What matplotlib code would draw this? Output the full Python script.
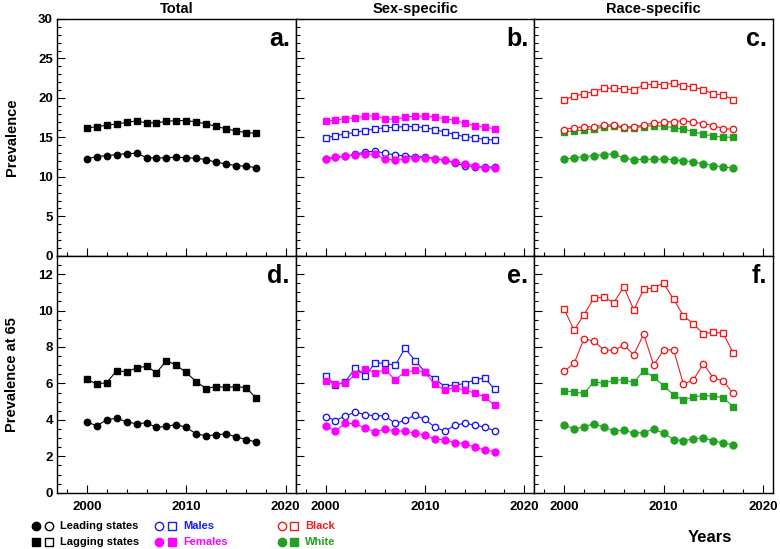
import matplotlib
matplotlib.use('Agg')
import matplotlib.pyplot as plt
from matplotlib.ticker import MultipleLocator

plt.rcParams['font.family'] = ['Liberation Sans', 'DejaVu Sans']
plt.rcParams['font.weight'] = 'bold'

years = list(range(2000, 2018))

# top row: prevalence (%)
total_lead = [12.28, 12.57, 12.70, 12.82, 12.95, 13.00, 12.44, 12.41, 12.44, 12.49, 12.44, 12.36, 12.19, 11.86, 11.65, 11.43, 11.35, 11.18]
total_lag = [16.20, 16.37, 16.54, 16.71, 16.92, 17.09, 16.84, 16.84, 17.05, 17.13, 17.13, 16.96, 16.71, 16.42, 16.08, 15.82, 15.61, 15.53]
male_lead = [12.32, 12.49, 12.62, 12.87, 13.16, 13.25, 13.00, 12.78, 12.66, 12.57, 12.53, 12.32, 12.11, 11.73, 11.43, 11.31, 11.22, 11.27]
male_lag = [14.94, 15.23, 15.44, 15.65, 15.86, 16.08, 16.24, 16.29, 16.37, 16.37, 16.24, 15.99, 15.70, 15.36, 15.10, 14.98, 14.72, 14.68]
female_lead = [12.32, 12.49, 12.62, 12.78, 12.87, 12.87, 12.24, 12.15, 12.32, 12.45, 12.41, 12.32, 12.11, 11.90, 11.69, 11.43, 11.18, 11.10]
female_lag = [17.05, 17.22, 17.38, 17.51, 17.68, 17.76, 17.34, 17.30, 17.55, 17.72, 17.68, 17.59, 17.38, 17.17, 16.80, 16.46, 16.29, 16.11]
black_lead = [15.99, 16.24, 16.33, 16.37, 16.54, 16.62, 16.29, 16.37, 16.54, 16.84, 16.96, 17.00, 17.13, 16.92, 16.75, 16.49, 16.11, 16.04]
black_lag = [19.78, 20.21, 20.54, 20.80, 21.23, 21.23, 21.14, 21.05, 21.65, 21.73, 21.69, 21.86, 21.56, 21.39, 21.01, 20.51, 20.38, 19.78]
white_lead = [12.24, 12.41, 12.57, 12.70, 12.82, 12.91, 12.36, 12.19, 12.24, 12.24, 12.24, 12.19, 12.06, 11.90, 11.65, 11.43, 11.27, 11.10]
white_lag = [15.70, 15.82, 15.95, 16.11, 16.29, 16.46, 16.16, 16.24, 16.37, 16.49, 16.42, 16.24, 16.04, 15.74, 15.40, 15.19, 15.02, 15.02]

# bottom row: prevalence at 65
total_lead65 = [3.89, 3.67, 4.00, 4.09, 3.89, 3.78, 3.84, 3.58, 3.65, 3.74, 3.58, 3.23, 3.12, 3.18, 3.23, 3.07, 2.92, 2.79]
total_lag65 = [6.22, 5.97, 6.04, 6.70, 6.64, 6.85, 6.94, 6.59, 7.25, 7.00, 6.60, 6.09, 5.72, 5.83, 5.78, 5.82, 5.77, 5.21]
male_lead65 = [4.18, 3.96, 4.22, 4.42, 4.29, 4.22, 4.22, 3.80, 3.98, 4.26, 4.02, 3.60, 3.38, 3.69, 3.82, 3.71, 3.60, 3.40]
male_lag65 = [6.41, 5.91, 6.09, 6.86, 6.42, 7.14, 7.10, 6.99, 7.93, 7.25, 6.64, 6.24, 5.83, 5.93, 5.98, 6.20, 6.30, 5.69]
female_lead65 = [3.65, 3.40, 3.80, 3.80, 3.54, 3.34, 3.49, 3.40, 3.38, 3.27, 3.16, 2.94, 2.90, 2.75, 2.70, 2.50, 2.35, 2.26]
female_lag65 = [6.15, 5.98, 6.02, 6.49, 6.79, 6.59, 6.75, 6.20, 6.63, 6.71, 6.63, 5.94, 5.64, 5.76, 5.64, 5.47, 5.27, 4.79]
black_lead65 = [6.66, 7.10, 8.46, 8.31, 7.84, 7.82, 8.09, 7.58, 8.70, 7.01, 7.82, 7.86, 5.94, 6.20, 7.08, 6.30, 6.13, 5.45]
black_lag65 = [10.07, 8.93, 9.78, 10.68, 10.72, 10.44, 11.30, 10.04, 11.16, 11.25, 11.50, 10.62, 9.71, 9.27, 8.72, 8.81, 8.74, 7.67]
white_lead65 = [3.74, 3.49, 3.63, 3.78, 3.60, 3.40, 3.43, 3.27, 3.30, 3.49, 3.27, 2.92, 2.86, 2.95, 3.01, 2.86, 2.72, 2.64]
white_lag65 = [5.60, 5.53, 5.45, 6.09, 6.00, 6.19, 6.19, 6.06, 6.70, 6.35, 5.87, 5.38, 5.08, 5.27, 5.32, 5.32, 5.20, 4.73]

col_titles = ['Total', 'Sex-specific', 'Race-specific']
panel_letters = [['a.', 'b.', 'c.'], ['d.', 'e.', 'f.']]

BLUE = '#1a1aee'
MAGENTA = '#ff00ff'
RED = '#ee1c1c'
GREEN = '#22a022'


def series(ax, y, color, marker, filled, ms=4.6):
    ax.plot(years, y, color=color, lw=0.8, marker=marker, ms=ms,
            mfc=color if filled else 'white', mec=color, mew=1.0)


fig, axes = plt.subplots(2, 3, figsize=(7.8, 5.49), dpi=100)
fig.subplots_adjust(left=0.0731, right=0.991, top=0.9654, bottom=0.1025, wspace=0, hspace=0)

# top row
series(axes[0, 0], total_lag, 'black', 's', True)
series(axes[0, 0], total_lead, 'black', 'o', True)
series(axes[0, 1], male_lag, BLUE, 's', False)
series(axes[0, 1], male_lead, BLUE, 'o', False)
series(axes[0, 1], female_lag, MAGENTA, 's', True, 5)
series(axes[0, 1], female_lead, MAGENTA, 'o', True, 5)
series(axes[0, 2], white_lag, GREEN, 's', True, 5)
series(axes[0, 2], white_lead, GREEN, 'o', True, 5)
series(axes[0, 2], black_lag, RED, 's', False)
series(axes[0, 2], black_lead, RED, 'o', False)

# bottom row
series(axes[1, 0], total_lag65, 'black', 's', True)
series(axes[1, 0], total_lead65, 'black', 'o', True)
series(axes[1, 1], male_lag65, BLUE, 's', False)
series(axes[1, 1], male_lead65, BLUE, 'o', False)
series(axes[1, 1], female_lag65, MAGENTA, 's', True, 5)
series(axes[1, 1], female_lead65, MAGENTA, 'o', True, 5)
series(axes[1, 2], white_lag65, GREEN, 's', True, 5)
series(axes[1, 2], white_lead65, GREEN, 'o', True, 5)
series(axes[1, 2], black_lag65, RED, 's', False)
series(axes[1, 2], black_lead65, RED, 'o', False)

for r in range(2):
    for c in range(3):
        ax = axes[r, c]
        ax.set_xlim(1997, 2021)
        ax.xaxis.set_major_locator(MultipleLocator(10))
        ax.xaxis.set_minor_locator(MultipleLocator(2))
        if r == 0:
            ax.set_ylim(0, 30)
            ax.yaxis.set_major_locator(MultipleLocator(5))
            ax.yaxis.set_minor_locator(MultipleLocator(1))
        else:
            ax.set_ylim(0, 13)
            ax.yaxis.set_major_locator(MultipleLocator(2))
            ax.yaxis.set_minor_locator(MultipleLocator(0.5))
        ax.tick_params(which='both', direction='in', top=False, right=False,
                       labelsize=9.5, width=0.8)
        ax.tick_params(which='major', length=6)
        ax.tick_params(which='minor', length=3)
        ax.tick_params(axis='y', pad=3)
        ax.tick_params(axis='x', pad=6)
        if c > 0:
            ax.tick_params(labelleft=False)
        if r == 0:
            ax.tick_params(labelbottom=False)
        for sp in ax.spines.values():
            sp.set_linewidth(1.0)
        for lab in ax.get_xticklabels() + ax.get_yticklabels():
            lab.set_fontweight('bold')
        ax.text(0.975, 0.887, panel_letters[r][c], transform=ax.transAxes,
                ha='right', va='baseline', fontsize=18, fontweight='bold')

for c in range(3):
    axes[0, c].set_title(col_titles[c], fontsize=10.5, fontweight='bold', pad=4)

fig.text(0.016, 0.75, 'Prevalence', rotation=90, ha='center', va='center',
         fontsize=10.5, fontweight='bold')
fig.text(0.016, 0.318, 'Prevalence at 65', rotation=90, ha='center', va='center',
         fontsize=10.5, fontweight='bold')
fig.text(710 / 780, 1 - 538 / 549, 'Years', ha='center', va='center',
         fontsize=12, fontweight='bold')

# legend drawn in pixel space on an overlay axes
leg = fig.add_axes([0, 0, 1, 1])
leg.set_xlim(0, 780)
leg.set_ylim(549, 0)
leg.axis('off')
leg_rows = [
    (36, 49, 526, 'Leading states', 'black', ('o', True), ('o', False)),
    (36, 49, 542, 'Lagging states', 'black', ('s', True), ('s', False)),
    (159, 172, 526, 'Males', BLUE, ('o', False), ('s', False)),
    (159, 172, 542, 'Females', MAGENTA, ('o', True), ('s', True)),
    (282, 294, 526, 'Black', RED, ('o', False), ('s', False)),
    (282, 294, 542, 'White', GREEN, ('o', True), ('s', True)),
]
for x1, x2, y, label, color, m1, m2 in leg_rows:
    for x, (mk, filled) in ((x1, m1), (x2, m2)):
        leg.plot([x], [y], marker=mk, ms=6, color=color,
                 mfc=color if filled else 'white', mec=color, mew=1.0)
    leg.text(x2 + 11, y, label, color=color, fontsize=8, fontweight='bold',
             ha='left', va='center')

fig.savefig('out.png', dpi=100)
